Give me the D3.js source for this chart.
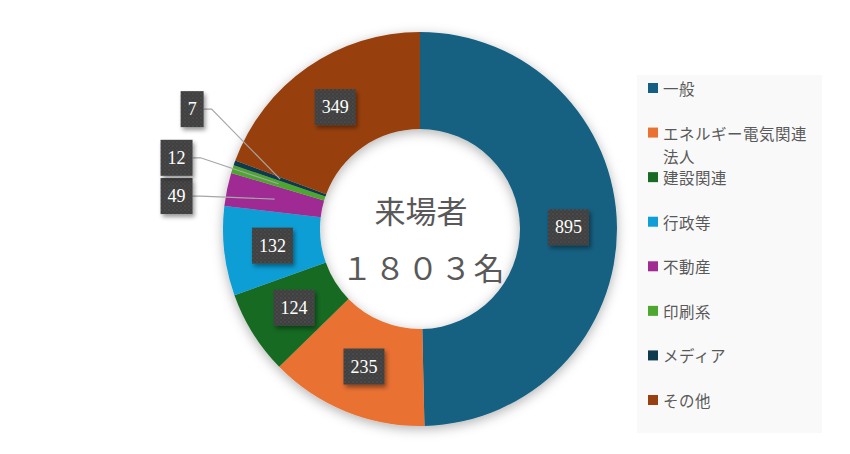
<!DOCTYPE html>
<html>
<head>
<meta charset="utf-8">
<script src="https://cdn.jsdelivr.net/npm/d3@7"></script>
<style>
  body { margin: 0; background: #fff; }
  svg { display: block; }
</style>
</head>
<body>
<div class="chart"></div>
<script>
// chart values
var categories = ["一般", "エネルギー電気関連法人", "建設関連", "行政等", "不動産", "印刷系", "メディア", "その他"];
var values = [895, 235, 124, 132, 49, 12, 7, 349];
var colors = ["#156082", "#E97132", "#196B24", "#0F9ED5", "#A02B93", "#4EA72E", "#0D3A4E", "#984011"];
var centerTitle = "来場者";
var centerTotal = "１８０３名";

var svgWidth = 850;
var svgHeight = 454;
var cx = 420, cy = 229;
var outerR = 197, innerR = 100;

// small slices get their label pulled out to the left (box centre offset from centroid)
var outsideOffsets = { 4: [-98, -3], 5: [-102, -26], 6: [-88, -70] };

var svg = d3.select(".chart")
  .append("svg")
  .attr("width", svgWidth)
  .attr("height", svgHeight);

var defs = svg.append("defs");

var shadow = defs.append("filter")
  .attr("id", "donutShadow")
  .attr("x", "-20%").attr("y", "-20%")
  .attr("width", "140%").attr("height", "140%");
shadow.append("feDropShadow")
  .attr("dx", 0).attr("dy", 3)
  .attr("stdDeviation", 6)
  .attr("flood-color", "#000")
  .attr("flood-opacity", 0.3);

var boxShadow = defs.append("filter")
  .attr("id", "boxShadow")
  .attr("x", "-30%").attr("y", "-30%")
  .attr("width", "160%").attr("height", "160%");
boxShadow.append("feDropShadow")
  .attr("dx", 2).attr("dy", 3)
  .attr("stdDeviation", 2)
  .attr("flood-color", "#000")
  .attr("flood-opacity", 0.4);

// dotted texture of the label boxes
var pattern = defs.append("pattern")
  .attr("id", "dots")
  .attr("width", 4).attr("height", 4)
  .attr("patternUnits", "userSpaceOnUse");
pattern.append("rect").attr("width", 4).attr("height", 4).attr("fill", "#404040");
pattern.append("circle").attr("cx", 1).attr("cy", 1).attr("r", 0.8).attr("fill", "#555");
pattern.append("circle").attr("cx", 3).attr("cy", 3).attr("r", 0.8).attr("fill", "#4c4c4c");

var chartGroup = svg.append("g")
  .attr("transform", `translate(${cx}, ${cy})`);

var pie = d3.pie().sort(null).value(d => d);
var arcs = pie(values);

var arc = d3.arc().innerRadius(innerR).outerRadius(outerR);

chartGroup.append("g")
  .attr("filter", "url(#donutShadow)")
  .selectAll("path")
  .data(arcs)
  .enter()
  .append("path")
  .attr("d", arc)
  .attr("fill", (d, i) => colors[i]);

// centre text
chartGroup.append("text")
  .attr("x", 1)
  .attr("y", -20)
  .attr("text-anchor", "middle")
  .attr("dominant-baseline", "central")
  .style("font-family", "'Noto Sans CJK JP'")
  .style("font-size", "31px")
  .style("fill", "#595959")
  .text(centerTitle);

chartGroup.append("text")
  .attr("x", 4)
  .attr("y", 37)
  .attr("text-anchor", "middle")
  .attr("dominant-baseline", "central")
  .style("font-family", "'Noto Sans CJK JP'")
  .style("font-size", "31px")
  .style("letter-spacing", "2px")
  .style("fill", "#595959")
  .text(centerTotal);

// data labels
var labelGroup = chartGroup.append("g");
arcs.forEach(function(d, i) {
  var c = arc.centroid(d);
  var off = outsideOffsets[i];
  var bx = off ? c[0] + off[0] : c[0];
  var by = off ? c[1] + off[1] : c[1];

  var g = labelGroup.append("g");
  var t = g.append("text")
    .attr("x", bx)
    .attr("y", by)
    .attr("text-anchor", "middle")
    .attr("dominant-baseline", "central")
    .style("font-family", "'Liberation Serif', 'DejaVu Serif', serif")
    .style("font-size", "18px")
    .style("fill", "#fff")
    .text(values[i]);
  var w = t.node().getComputedTextLength() + 14;
  var h = 36;
  g.insert("rect", "text")
    .attr("x", bx - w / 2)
    .attr("y", by - h / 2)
    .attr("width", w)
    .attr("height", h)
    .attr("fill", "url(#dots)")
    .attr("filter", "url(#boxShadow)");

  if (off) {
    var x0 = bx + w / 2;
    labelGroup.insert("polyline", "g")
      .attr("points", `${x0},${by} ${x0 + 8},${by} ${c[0]},${c[1]}`)
      .attr("fill", "none")
      .attr("stroke", "#a6a6a6")
      .attr("stroke-width", 1.2);
  }
});

// legend
var legendX = 637, legendY = 75, legendW = 185, legendH = 358;
var legend = svg.append("g");
legend.append("rect")
  .attr("x", legendX)
  .attr("y", legendY)
  .attr("width", legendW)
  .attr("height", legendH)
  .attr("fill", "#f9f9f9");

var rowY = d3.scaleLinear().domain([0, categories.length - 1]).range([88, 400]);
var maxTextW = 152;

categories.forEach(function(name, i) {
  var y = rowY(i);
  legend.append("rect")
    .attr("x", 648)
    .attr("y", y - 5)
    .attr("width", 10)
    .attr("height", 10)
    .attr("fill", colors[i]);

  var t = legend.append("text")
    .attr("x", 663)
    .attr("y", y)
    .attr("dominant-baseline", "central")
    .style("font-family", "'Noto Sans CJK JP'")
    .style("font-size", "15.5px")
    .style("letter-spacing", "0.5px")
    .style("fill", "#595959")
    .text(name);

  // wrap long names onto a second line
  if (t.node().getComputedTextLength() > maxTextW) {
    var chars = Array.from(name);
    var cut = chars.length;
    while (cut > 1) {
      t.text(chars.slice(0, cut).join(""));
      if (t.node().getComputedTextLength() <= maxTextW) break;
      cut--;
    }
    legend.append("text")
      .attr("x", 663)
      .attr("y", y + 23)
      .attr("dominant-baseline", "central")
      .style("font-family", "'Noto Sans CJK JP'")
      .style("font-size", "15.5px")
      .style("letter-spacing", "0.5px")
      .style("fill", "#595959")
      .text(chars.slice(cut).join(""));
  }
});
</script>
</body>
</html>
